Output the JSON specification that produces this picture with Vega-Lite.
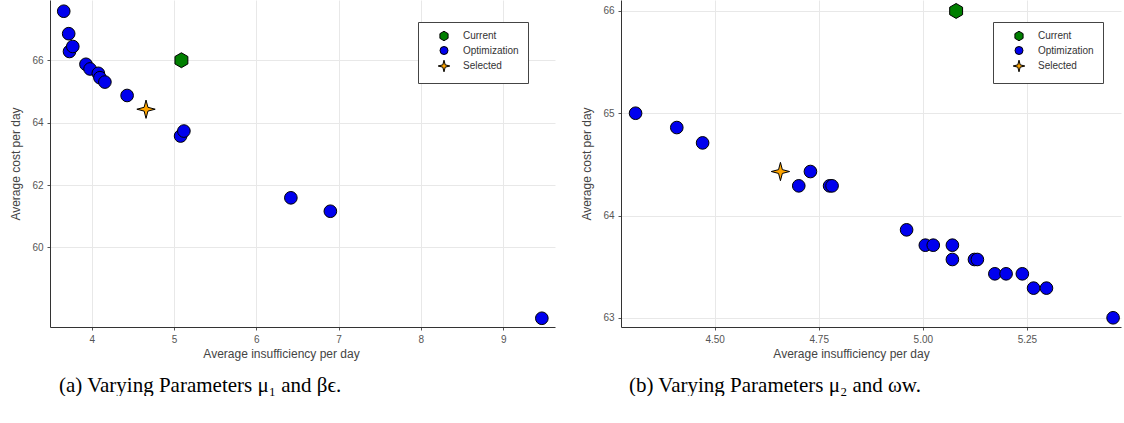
{
  "$schema": "https://vega.github.io/schema/vega-lite/v6.json",
  "padding": {"left": 9, "top": 0, "right": 1, "bottom": 0},
  "background": "white",
  "datasets": {
    "a": [
      {"series": "Optimization", "x": 3.66, "y": 67.57},
      {"series": "Optimization", "x": 3.72, "y": 66.85},
      {"series": "Optimization", "x": 3.73, "y": 66.28},
      {"series": "Optimization", "x": 3.77, "y": 66.44},
      {"series": "Optimization", "x": 3.93, "y": 65.87},
      {"series": "Optimization", "x": 3.98, "y": 65.72},
      {"series": "Optimization", "x": 4.08, "y": 65.58},
      {"series": "Optimization", "x": 4.10, "y": 65.44},
      {"series": "Optimization", "x": 4.16, "y": 65.30},
      {"series": "Optimization", "x": 4.43, "y": 64.87},
      {"series": "Optimization", "x": 5.08, "y": 63.57},
      {"series": "Optimization", "x": 5.12, "y": 63.73},
      {"series": "Optimization", "x": 6.42, "y": 61.59},
      {"series": "Optimization", "x": 6.90, "y": 61.16},
      {"series": "Optimization", "x": 9.47, "y": 57.73},
      {"series": "Current", "x": 5.09, "y": 66.0},
      {"series": "Selected", "x": 4.66, "y": 64.43}
    ],
    "b": [
      {"series": "Optimization", "x": 4.310, "y": 65.0},
      {"series": "Optimization", "x": 4.409, "y": 64.86},
      {"series": "Optimization", "x": 4.471, "y": 64.71},
      {"series": "Optimization", "x": 4.702, "y": 64.29},
      {"series": "Optimization", "x": 4.730, "y": 64.43},
      {"series": "Optimization", "x": 4.776, "y": 64.29},
      {"series": "Optimization", "x": 4.782, "y": 64.29},
      {"series": "Optimization", "x": 4.961, "y": 63.86},
      {"series": "Optimization", "x": 5.006, "y": 63.71},
      {"series": "Optimization", "x": 5.025, "y": 63.71},
      {"series": "Optimization", "x": 5.071, "y": 63.71},
      {"series": "Optimization", "x": 5.071, "y": 63.57},
      {"series": "Optimization", "x": 5.124, "y": 63.57},
      {"series": "Optimization", "x": 5.131, "y": 63.57},
      {"series": "Optimization", "x": 5.173, "y": 63.43},
      {"series": "Optimization", "x": 5.200, "y": 63.43},
      {"series": "Optimization", "x": 5.239, "y": 63.43},
      {"series": "Optimization", "x": 5.266, "y": 63.29},
      {"series": "Optimization", "x": 5.297, "y": 63.29},
      {"series": "Optimization", "x": 5.457, "y": 63.0},
      {"series": "Current", "x": 5.08, "y": 66.0},
      {"series": "Selected", "x": 4.658, "y": 64.43}
    ]
  },
  "spacing": 25,
  "resolve": {
    "scale": {"x": "independent", "y": "independent", "color": "independent", "shape": "independent"},
    "legend": {"color": "independent", "shape": "independent"}
  },
  "hconcat": [
    {
      "width": 505,
      "height": 327,
      "data": {"name": "a"},
      "title": {"text": "(a) Varying Parameters μ₁ and βϵ.", "orient": "bottom", "anchor": "start", "frame": "group", "dx": 9},
      "mark": {"type": "point", "filled": true, "size": 160, "stroke": "black", "strokeWidth": 1, "opacity": 1},
      "encoding": {
        "x": {"field": "x", "type": "quantitative",
          "scale": {"domain": [3.493, 9.63], "nice": false, "zero": false},
          "axis": {"values": [4, 5, 6, 7, 8, 9], "format": "d", "title": "Average insufficiency per day", "titleX": 231}},
        "y": {"field": "y", "type": "quantitative",
          "scale": {"domain": [57.45, 67.93], "nice": false, "zero": false},
          "axis": {"values": [60, 62, 64, 66], "format": "d", "title": "Average cost per day"}},
        "color": {"field": "series", "type": "nominal",
          "scale": {"domain": ["Current", "Optimization", "Selected"], "range": ["#007f00", "#0000ee", "#ffa500"]},
          "legend": {"orient": "none", "legendX": 368, "legendY": 22, "title": null}},
        "shape": {"field": "series", "type": "nominal",
          "scale": {"domain": ["Current", "Optimization", "Selected"], "range": ["M0,-1.18L1.02,-0.59L1.02,0.59L0,1.18L-1.02,0.59L-1.02,-0.59Z", "circle", "M0,-1.45L0.3,-0.3L1.45,0L0.3,0.3L0,1.45L-0.3,0.3L-1.45,0L-0.3,-0.3Z"]},
          "legend": {"orient": "none", "legendX": 368, "legendY": 22, "title": null}},
        "order": {"field": "series", "type": "nominal"}
      }
    },
    {
      "width": 500,
      "height": 327,
      "data": {"name": "b"},
      "title": {"text": "(b) Varying Parameters μ₂ and ωw.", "orient": "bottom", "anchor": "start", "frame": "group", "dx": 8},
      "mark": {"type": "point", "filled": true, "size": 160, "stroke": "black", "strokeWidth": 1, "opacity": 1},
      "encoding": {
        "x": {"field": "x", "type": "quantitative",
          "scale": {"domain": [4.275, 5.476], "nice": false, "zero": false},
          "axis": {"values": [4.5, 4.75, 5.0, 5.25], "format": ".2f", "title": "Average insufficiency per day", "titleX": 230}},
        "y": {"field": "y", "type": "quantitative",
          "scale": {"domain": [62.91, 66.107], "nice": false, "zero": false},
          "axis": {"values": [63, 64, 65, 66], "format": "d", "title": "Average cost per day"}},
        "color": {"field": "series", "type": "nominal",
          "scale": {"domain": ["Current", "Optimization", "Selected"], "range": ["#007f00", "#0000ee", "#ffa500"]},
          "legend": {"orient": "none", "legendX": 372, "legendY": 22, "title": null}},
        "shape": {"field": "series", "type": "nominal",
          "scale": {"domain": ["Current", "Optimization", "Selected"], "range": ["M0,-1.18L1.02,-0.59L1.02,0.59L0,1.18L-1.02,0.59L-1.02,-0.59Z", "circle", "M0,-1.45L0.3,-0.3L1.45,0L0.3,0.3L0,1.45L-0.3,0.3L-1.45,0L-0.3,-0.3Z"]},
          "legend": {"orient": "none", "legendX": 372, "legendY": 22, "title": null}},
        "order": {"field": "series", "type": "nominal"}
      }
    }
  ],
  "config": {
    "view": {"stroke": null},
    "axis": {
      "labelFont": "Liberation Sans", "labelFontSize": 10, "labelColor": "#555",
      "titleFont": "Liberation Sans", "titleFontSize": 12, "titleFontWeight": "normal", "titleColor": "#444",
      "gridColor": "#e8e8e8", "gridWidth": 1,
      "domainColor": "#333", "tickColor": "#555", "tickSize": 3, "labelPadding": 4, "titlePadding": 9
    },
    "axisX": {"titlePadding": 4},
    "legend": {
      "padding": 9, "symbolOffset": 12, "labelOffset": 14, "strokeColor": "#444", "fillColor": "white",
      "symbolSize": 64, "symbolStrokeColor": "black", "symbolStrokeWidth": 1,
      "labelFont": "Liberation Sans", "labelFontSize": 10, "labelColor": "#333", "rowPadding": 1.5,
      "labelExpr": "datum.label + '\u2003\u2003'"
    },
    "title": {"font": "Liberation Serif", "fontSize": 21, "fontWeight": "normal", "color": "black", "offset": 16}
  }
}
